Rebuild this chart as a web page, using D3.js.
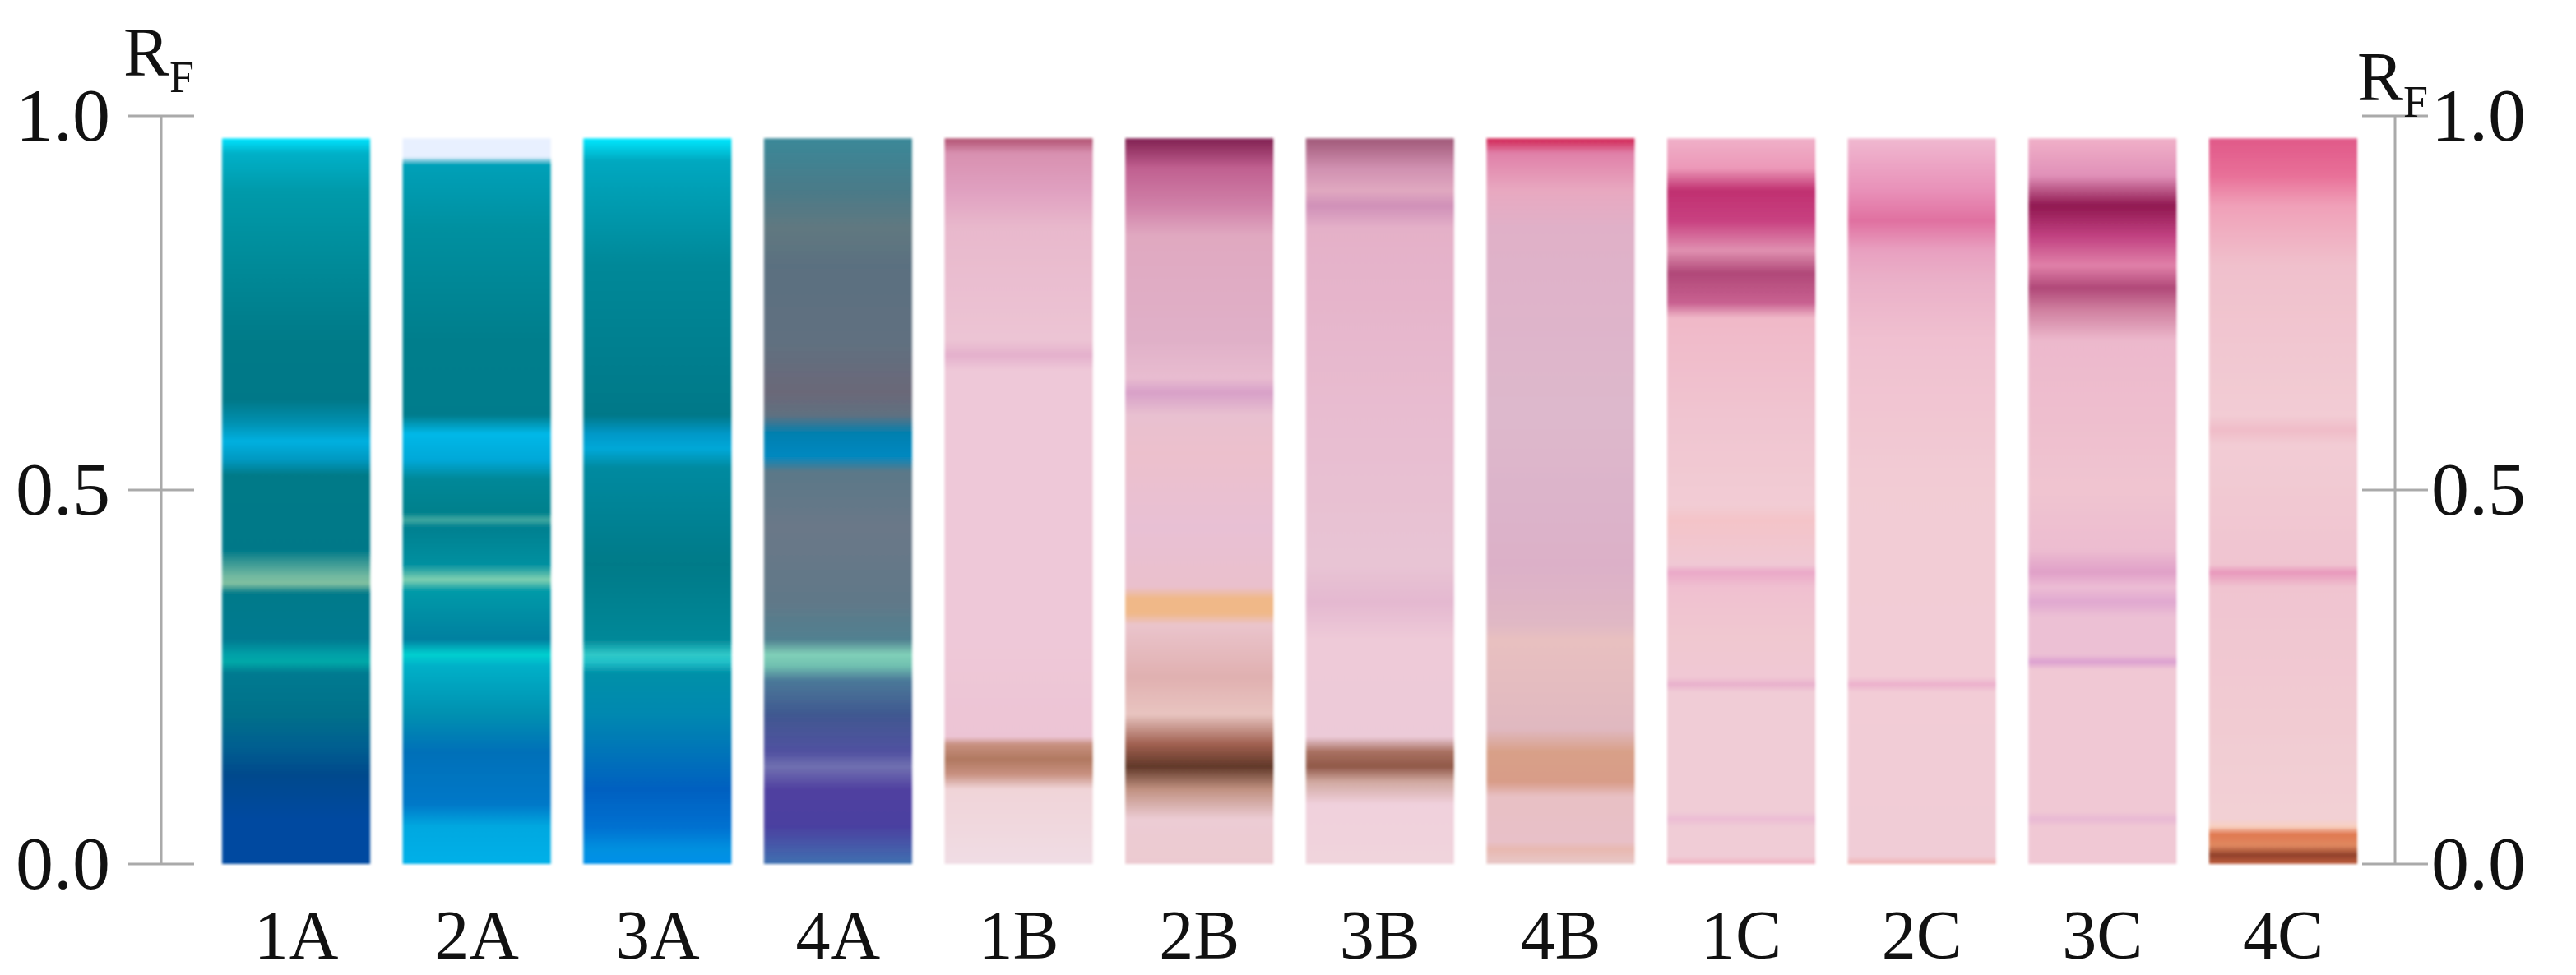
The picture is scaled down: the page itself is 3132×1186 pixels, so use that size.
<!DOCTYPE html>
<html><head><meta charset="utf-8">
<script src="https://cdn.jsdelivr.net/npm/d3@7"></script>
<style>body{margin:0;background:#fff} text{font-family:"Liberation Serif","Tinos","DejaVu Serif",serif}</style></head>
<body><svg id="c" width="3132" height="1186"></svg>
<script>
const lanes = ["1A","2A","3A","4A","1B","2B","3B","4B","1C","2C","3C","4C"];
const tickValues = [0, 0.5, 1.0];
const tickLabels = ["0.0","0.5","1.0"];
const laneTop = 0.97;
const s1A=[[0.97,"#00e5ff"],[0.95,"#00b0c8"],[0.9,"#009aaa"],[0.8,"#008a98"],[0.7,"#007a88"],[0.62,"#007888"],[0.59,"#0090b0"],[0.565,"#00b0e0"],[0.54,"#0098c0"],[0.52,"#007a88"],[0.42,"#007888"],[0.385,"#70b8a0"],[0.375,"#80c0a0"],[0.362,"#007a8a"],[0.3,"#007a90"],[0.28,"#00a0a8"],[0.27,"#00a8a8"],[0.255,"#007a90"],[0.2,"#00708a"],[0.16,"#006090"],[0.12,"#004a8c"],[0.06,"#0048a0"],[0,"#0048a0"]];
const s2A=[[0.97,"#e8f0ff"],[0.945,"#e8f0ff"],[0.935,"#00a0b8"],[0.85,"#0090a0"],[0.7,"#007e8c"],[0.6,"#007c8c"],[0.575,"#00b8e8"],[0.54,"#00a8d8"],[0.515,"#008898"],[0.47,"#00808c"],[0.46,"#40a8a0"],[0.45,"#008090"],[0.4,"#0090a0"],[0.38,"#80d0b0"],[0.365,"#009aa8"],[0.3,"#0080a0"],[0.28,"#00d0d0"],[0.265,"#00b0c8"],[0.2,"#0090b0"],[0.15,"#0070b8"],[0.08,"#0078c8"],[0.05,"#00a8e0"],[0,"#00b0e8"]];
const s3A=[[0.97,"#00e8ff"],[0.94,"#00a8c0"],[0.8,"#008898"],[0.6,"#007888"],[0.575,"#0098c8"],[0.555,"#00a8d8"],[0.53,"#008aa0"],[0.4,"#007a88"],[0.3,"#008898"],[0.28,"#30c8c8"],[0.27,"#20c0c8"],[0.255,"#0090a8"],[0.2,"#0088b0"],[0.1,"#0060c0"],[0.05,"#0070d0"],[0.02,"#0090e0"],[0,"#0090e8"]];
const s4A=[[0.97,"#3a8898"],[0.9,"#4a7a88"],[0.85,"#607880"],[0.8,"#5a7080"],[0.7,"#607080"],[0.63,"#6a6878"],[0.6,"#607080"],[0.575,"#0080b0"],[0.545,"#0088c0"],[0.525,"#5a7888"],[0.45,"#6a7888"],[0.35,"#607888"],[0.3,"#508090"],[0.28,"#80d0b8"],[0.265,"#70c0b0"],[0.245,"#4a7898"],[0.2,"#405890"],[0.15,"#5050a0"],[0.13,"#7070b0"],[0.1,"#5040a0"],[0.05,"#4a40a0"],[0,"#4070b0"]];
const s1B=[[0.97,"#b05070"],[0.95,"#d890b0"],[0.9,"#e0a0c0"],[0.85,"#e8b8cc"],[0.7,"#ecc4d4"],[0.68,"#e4b0cc"],[0.66,"#eec8d8"],[0.3,"#eec8d8"],[0.17,"#ecc4d4"],[0.16,"#c89080"],[0.14,"#b07860"],[0.12,"#c89080"],[0.1,"#f0d4d8"],[0,"#f0dce4"]];
const s2B=[[0.97,"#802050"],[0.93,"#c06090"],[0.88,"#d080a8"],[0.84,"#e0a8c0"],[0.7,"#e0b0c8"],[0.65,"#e8bcd0"],[0.63,"#d8a0c8"],[0.6,"#e8c0d0"],[0.55,"#ecc0cc"],[0.45,"#e8c0d4"],[0.37,"#eac0cc"],[0.355,"#f0b888"],[0.335,"#f0b888"],[0.32,"#eac4cc"],[0.25,"#e0b0b0"],[0.2,"#e8c4c0"],[0.16,"#a06050"],[0.13,"#603828"],[0.1,"#c09080"],[0.06,"#ecccd4"],[0,"#eccad0"]];
const s3B=[[0.97,"#a05878"],[0.93,"#d090b0"],[0.9,"#e0a8c0"],[0.88,"#d090b8"],[0.85,"#e4b0c8"],[0.6,"#e8bcd0"],[0.4,"#e8c4d4"],[0.35,"#e4b8d0"],[0.3,"#eecad8"],[0.17,"#eccad8"],[0.15,"#a87060"],[0.13,"#905848"],[0.11,"#d0a8a0"],[0.08,"#f0d0dc"],[0,"#f0d4dc"]];
const s4B=[[0.97,"#d02050"],[0.95,"#e080a8"],[0.9,"#e8a8c0"],[0.85,"#e0b0c8"],[0.6,"#ddb8cc"],[0.4,"#dcb0c8"],[0.32,"#e0b8c4"],[0.3,"#e8c0c0"],[0.18,"#e0b8c0"],[0.15,"#d8a088"],[0.11,"#d89c88"],[0.09,"#e8c0c4"],[0.03,"#e8c0c8"],[0.02,"#e8b8b0"],[0,"#e8c8c8"]];
const s1C=[[0.97,"#f0b0c8"],[0.93,"#ec98b8"],[0.9,"#c03070"],[0.86,"#c84080"],[0.82,"#e090b0"],[0.79,"#b04878"],[0.75,"#c86090"],[0.73,"#f0b8c8"],[0.6,"#f0c4d0"],[0.48,"#f2ccd4"],[0.46,"#f4c4c8"],[0.4,"#f0c8d4"],[0.39,"#eaa8c8"],[0.37,"#f0c0d0"],[0.3,"#f0c8d0"],[0.25,"#f0c8d4"],[0.24,"#e8b0cc"],[0.23,"#f0ccd6"],[0.07,"#f0ccd6"],[0.06,"#ecbcd4"],[0.05,"#f0ccd6"],[0.01,"#f0ccd6"],[0,"#f0b0c0"]];
const s2C=[[0.97,"#f0b8d0"],[0.9,"#e890b8"],[0.86,"#e070a0"],[0.82,"#e8a0c0"],[0.78,"#eab0c8"],[0.7,"#f0c0d0"],[0.5,"#f2ccd4"],[0.25,"#f2ccd6"],[0.24,"#ecb0cc"],[0.23,"#f2ccd6"],[0.01,"#f0ccd6"],[0,"#f0b0b0"]];
const s3C=[[0.97,"#f0b0c8"],[0.92,"#e090b8"],[0.88,"#901850"],[0.84,"#c04080"],[0.8,"#e080a8"],[0.77,"#b04878"],[0.74,"#d080a0"],[0.7,"#ecb8cc"],[0.5,"#f0c4d0"],[0.42,"#ecbcd0"],[0.39,"#e0a0c8"],[0.37,"#ecbcd4"],[0.35,"#e0a8d0"],[0.33,"#ecc0d4"],[0.28,"#ecc0d4"],[0.27,"#dca0d0"],[0.26,"#f0c8d4"],[0.07,"#f0c8d4"],[0.06,"#e8b8d4"],[0.05,"#f0c8d4"],[0,"#f0c8d4"]];
const s4C=[[0.97,"#e05888"],[0.92,"#e87098"],[0.88,"#f0a0b8"],[0.8,"#f0c0cc"],[0.6,"#f2ccd4"],[0.58,"#f0bcc8"],[0.56,"#f2ccd4"],[0.4,"#f0c4d0"],[0.39,"#e898bc"],[0.37,"#f0c4d0"],[0.06,"#f2d0d4"],[0.05,"#f8d0c0"],[0.04,"#e07850"],[0.025,"#e08860"],[0.012,"#904028"],[0,"#c06040"]];
const series = [s1A,s2A,s3A,s4A,s1B,s2B,s3B,s4B,s1C,s2C,s3C,s4C];

const svg = d3.select("#c");
const y = d3.scaleLinear().domain([0,1]).range([1051,141]);
const x = d3.scaleBand().domain(lanes).range([270,2866]).paddingInner(0.18).paddingOuter(0);
const defs = svg.append("defs");
lanes.forEach((l,i)=>{
  const g = defs.append("linearGradient").attr("id","g"+l)
    .attr("gradientUnits","userSpaceOnUse").attr("x1",0).attr("x2",0)
    .attr("y1",y(laneTop)).attr("y2",y(0));
  series[i].forEach(([rf,c])=>{
    g.append("stop").attr("offset",(laneTop-rf)/laneTop).attr("stop-color",c);
  });
});
const f = defs.append("filter").attr("id","soft");
f.append("feGaussianBlur").attr("stdDeviation",1.5);
svg.selectAll("rect.lane").data(lanes).join("rect").attr("class","lane")
  .attr("x",d=>x(d)).attr("width",x.bandwidth())
  .attr("y",y(laneTop)).attr("height",y(0)-y(laneTop))
  .attr("fill",d=>"url(#g"+d+")").attr("filter","url(#soft)");

svg.selectAll("text.cat").data(lanes).join("text").attr("class","cat")
  .attr("x",d=>x(d)+x.bandwidth()/2).attr("y",1166).attr("text-anchor","middle")
  .attr("font-size",84).attr("fill","#111").text(d=>d);

function axis(ax, side){
  const g = svg.append("g").attr("stroke","#aaa").attr("stroke-width",3);
  g.append("line").attr("x1",ax).attr("x2",ax).attr("y1",y(1)).attr("y2",y(0));
  g.selectAll("line.t").data(tickValues).join("line").attr("class","t")
    .attr("x1",ax-40).attr("x2",ax+40).attr("y1",d=>y(d)).attr("y2",d=>y(d));
  svg.selectAll("text.tl"+side).data(tickValues).join("text").attr("class","tl"+side)
    .attr("x",side==="L"?ax-62:ax+44).attr("y",d=>y(d)+30)
    .attr("text-anchor",side==="L"?"end":"start")
    .attr("font-size",92).attr("fill","#111")
    .text((d,i)=>tickLabels[i]);
}
axis(196,"L"); axis(2912,"R");
function rf(xp,yp){
  const t = svg.append("text").attr("x",xp).attr("y",yp)
    .attr("font-size",84).attr("fill","#111");
  t.append("tspan").text("R");
  t.append("tspan").attr("font-size",54).attr("dy",20).text("F");
}
rf(150,92); rf(2866,122);
</script></body></html>
